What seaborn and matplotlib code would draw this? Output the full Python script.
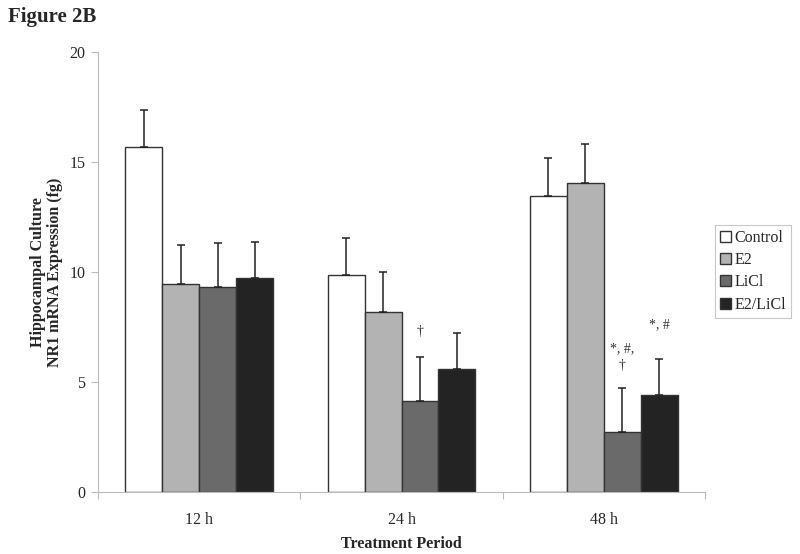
import numpy as np
import pandas as pd
import matplotlib
matplotlib.use("Agg")
import matplotlib.pyplot as plt
from matplotlib.ticker import FixedLocator
import seaborn as sns

# data
periods = ["12 h", "24 h", "48 h"]
groups = ["Control", "E2", "LiCl", "E2/LiCl"]
control = [15.71, 9.89, 13.48]
e2 = [9.45, 8.21, 14.07]
licl = [9.32, 4.14, 2.74]
e2_licl = [9.75, 5.62, 4.44]
control_err = [1.67, 1.68, 1.70]
e2_err = [1.77, 1.79, 1.76]
licl_err = [2.01, 2.00, 2.01]
e2_licl_err = [1.63, 1.61, 1.61]
bar_colors = ["#ffffff", "#b3b3b3", "#6a6a6a", "#232323"]

# significance marks: (group, period, text)
mark_groups = ["LiCl", "LiCl", "E2/LiCl"]
mark_periods = ["24 h", "48 h", "48 h"]
mark_texts = ["\u2020", "*, #,\n\u2020", "*, #"]
mark_gaps = [1.15, 1.4, 1.55]  # space above the error bar (data units)

values = [control, e2, licl, e2_licl]
errors = [control_err, e2_err, licl_err, e2_licl_err]
df = pd.DataFrame({
    "Period": np.tile(periods, len(groups)),
    "Group": np.repeat(groups, len(periods)),
    "Value": np.concatenate(values),
})

sns.set_theme(style="white")
plt.rcParams["font.family"] = ["Liberation Serif", "DejaVu Serif"]

fig = plt.figure(figsize=(8, 5.54), dpi=100)
ax = fig.add_axes([0.1225, 0.1114, 0.7588, 0.7942])

sns.barplot(data=df, x="Period", y="Value", hue="Group", order=periods,
            hue_order=groups, palette=bar_colors, width=0.73, errorbar=None,
            edgecolor="#333333", linewidth=1.0, ax=ax)

# one-sided error bars on top of each bar
for cont, err in zip(ax.containers, errors):
    xs = [b.get_x() + b.get_width() / 2 for b in cont]
    hs = [b.get_height() for b in cont]
    ax.errorbar(xs, hs, yerr=[np.zeros(len(err)), err], fmt="none",
                ecolor="#222222", elinewidth=1.1, capsize=3, capthick=1.1,
                zorder=1)

# significance text above the error bars
for g, p, txt, gap in zip(mark_groups, mark_periods, mark_texts, mark_gaps):
    gi, pi = groups.index(g), periods.index(p)
    b = ax.containers[gi][pi]
    top = values[gi][pi] + errors[gi][pi]
    ax.text(b.get_x() + b.get_width() / 2, top + gap, txt, ha="center",
            va="center", fontsize=10, color="#333333", linespacing=1.45)

ax.set_ylim(0, 20)
ax.set_xlim(-0.5, 2.5)
ax.set_yticks([0, 5, 10, 15, 20])
ax.tick_params(axis="y", which="major", length=5, width=0.8, color="#bbbbbb",
               labelsize=11.5, pad=4, direction="out", left=True)
ax.tick_params(axis="x", which="major", length=0, labelsize=11.5, pad=14)
ax.xaxis.set_minor_locator(FixedLocator([-0.5, 0.5, 1.5, 2.5]))
ax.tick_params(axis="x", which="minor", length=5, width=0.8, color="#bbbbbb",
               direction="out", bottom=True)
for side in ["top", "right"]:
    ax.spines[side].set_visible(False)
for side in ["left", "bottom"]:
    ax.spines[side].set_color("#bbbbbb")
    ax.spines[side].set_linewidth(0.8)

ax.set_xlabel("Treatment Period", fontsize=11.5, fontweight="bold", labelpad=6)
ax.set_ylabel("Hippocampal Culture\nNR1 mRNA Expression (fg)", fontsize=11.5,
              fontweight="bold", labelpad=5, linespacing=1.05)

handles, labels = ax.get_legend_handles_labels()
ax.legend(handles, labels, loc="upper left", bbox_to_anchor=(0.894, 0.594),
          bbox_transform=fig.transFigure, frameon=True, fancybox=False,
          edgecolor="#bbbbbb", fontsize=11.5, handlelength=0.7,
          handleheight=0.7, handletextpad=0.2, labelspacing=0.4,
          borderpad=0.3, borderaxespad=0)
ax.get_legend().get_frame().set_linewidth(0.8)

fig.text(0.01, 0.97, "Figure 2B", fontsize=15, fontweight="bold",
         ha="left", va="center")

fig.savefig("out.png", dpi=100)
